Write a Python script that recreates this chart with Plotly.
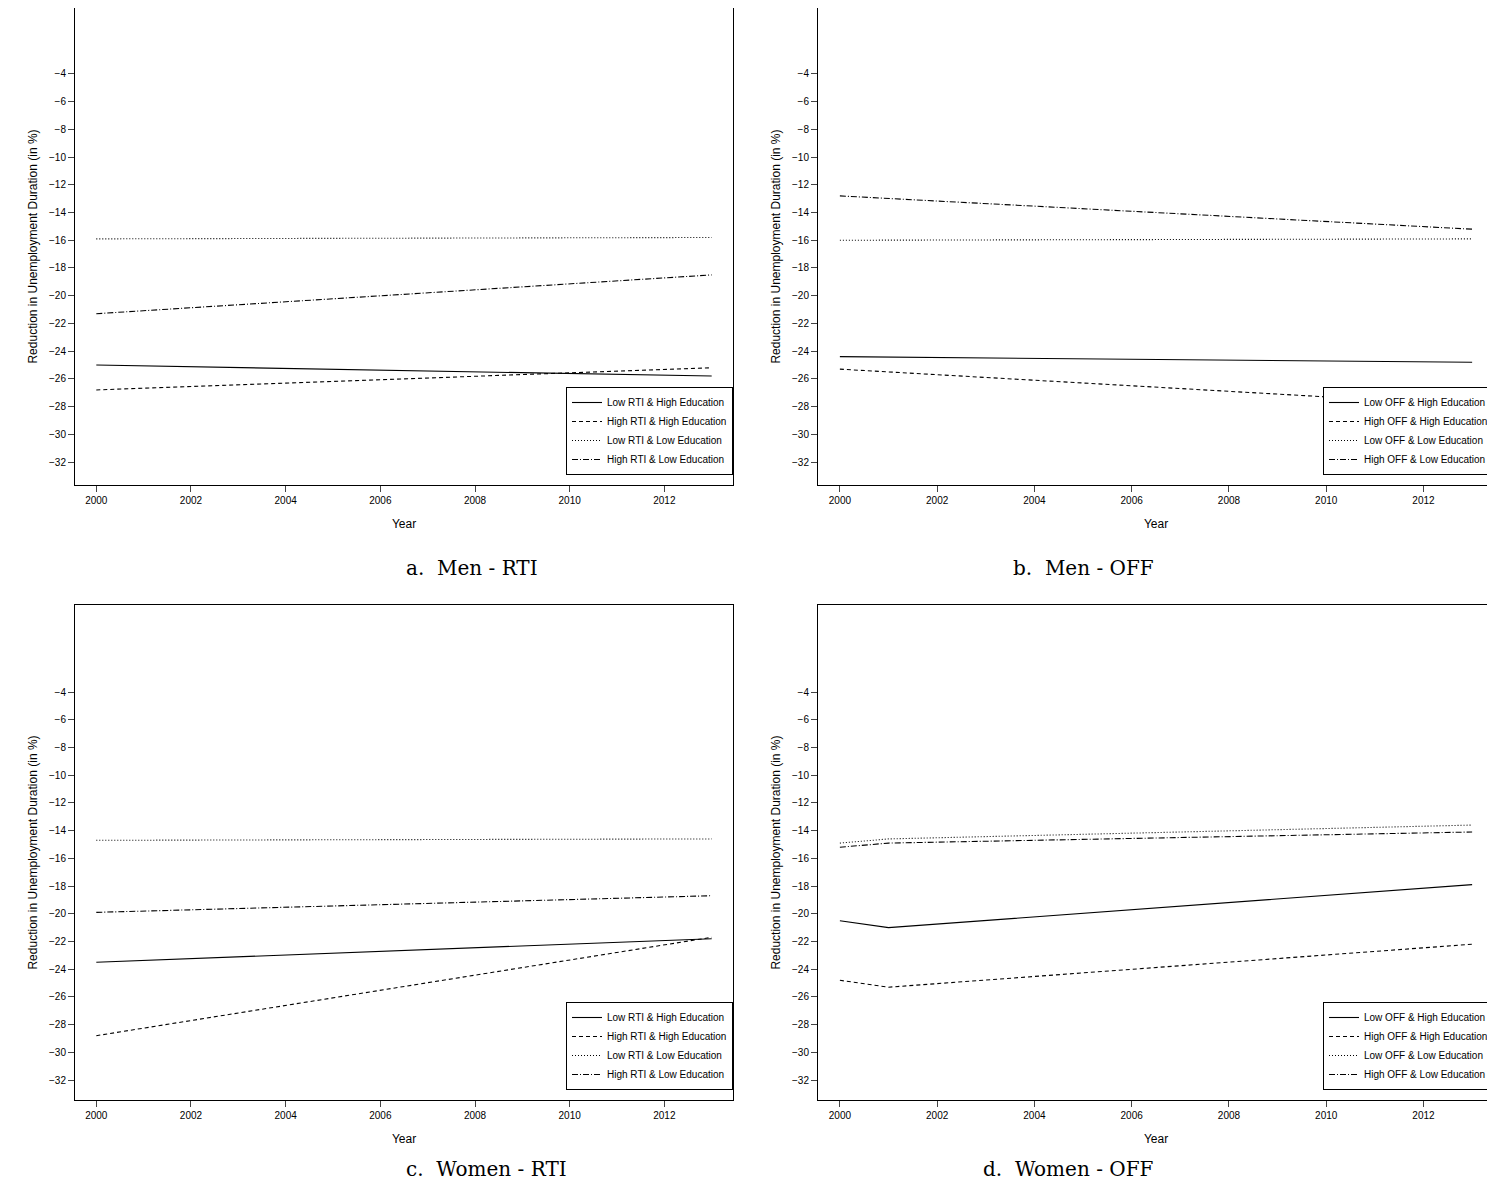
import plotly.graph_objects as go

W, H = 1495, 1202

years2 = [2000, 2013]
years3 = [2000, 2001, 2013]

# panel a: Men - RTI
a_low_high = [-25.0, -25.8]
a_high_high = [-26.8, -25.2]
a_low_low = [-15.9, -15.8]
a_high_low = [-21.3, -18.5]
# panel b: Men - OFF
b_low_high = [-24.4, -24.8]
b_high_high = [-25.3, -27.9]
b_low_low = [-16.0, -15.9]
b_high_low = [-12.8, -15.2]
# panel c: Women - RTI
c_low_high = [-23.5, -21.8]
c_high_high = [-28.8, -21.7]
c_low_low = [-14.7, -14.6]
c_high_low = [-19.9, -18.7]
# panel d: Women - OFF
d_low_high = [-20.5, -21.0, -17.9]
d_high_high = [-24.8, -25.3, -22.2]
d_low_low = [-14.9, -14.6, -13.6]
d_high_low = [-15.2, -14.9, -14.1]

panels = [
    ("RTI", years2, [a_low_high, a_high_high, a_low_low, a_high_low], "a.  Men - RTI"),
    ("OFF", years2, [b_low_high, b_high_high, b_low_low, b_high_low], "b.  Men - OFF"),
    ("RTI", years2, [c_low_high, c_high_high, c_low_low, c_high_low], "c.  Women - RTI"),
    ("OFF", years3, [d_low_high, d_high_high, d_low_low, d_high_low], "d.  Women - OFF"),
]
dashes = ["solid", "4px,3px", "1px,2px", "6px,2px,1px,2px"]
names = ["Low {} & High Education", "High {} & High Education",
         "Low {} & Low Education", "High {} & Low Education"]

# page has an 8px body margin, so boxes are given in figure pixels
# (left, right, top, bottom, y_min, y_max)
boxes = [(67, 725, 0, 477, -33.66, 0.76), (810, 1486, 0, 477, -33.66, 0.76),
         (67, 725, 597, 1092, -33.44, 2.28), (810, 1486, 597, 1092, -33.44, 2.28)]

fig = go.Figure()
layout = dict(width=W, height=H, margin=dict(l=0, r=0, t=0, b=0, autoexpand=False),
              plot_bgcolor="white", paper_bgcolor="white",
              font=dict(family="Liberation Sans, Arial", size=10, color="black"))
annotations = []
for i, (kind, yrs, series, caption) in enumerate(panels):
    n = i + 1
    sfx = "" if n == 1 else str(n)
    lg = "legend" if n == 1 else "legend" + str(n)
    l, r, t, b, y0, y1 = boxes[i]
    for j, s in enumerate(series):
        fig.add_trace(go.Scatter(x=yrs, y=s, mode="lines", name=names[j].format(kind),
                                 line=dict(color="black", width=1.1, dash=dashes[j]),
                                 xaxis="x" + sfx, yaxis="y" + sfx, legend=lg))
    layout["xaxis" + sfx] = dict(domain=[l / W, r / W], anchor="y" + sfx, automargin=False,
                                 range=[1999.55, 2013.45], tickvals=list(range(2000, 2013, 2)),
                                 showline=True, mirror=True, linecolor="black", ticks="outside",
                                 ticklen=6, showgrid=False, zeroline=False,
                                 title=dict(text="Year", standoff=14))
    layout["yaxis" + sfx] = dict(domain=[1 - b / H, 1 - t / H], anchor="x" + sfx, automargin=False,
                                 range=[y0, y1], tickvals=list(range(-32, -3, 2)),
                                 showline=True, mirror=True, linecolor="black", ticks="outside",
                                 ticklen=6, showgrid=False, zeroline=False,
                                 title=dict(text="Reduction in Unemployment Duration (in %)", standoff=8))
    layout[lg] = dict(x=r / W, y=1 - (b - 10) / H, xanchor="right", yanchor="bottom",
                      bordercolor="black", borderwidth=1, bgcolor="white",
                      font=dict(size=10), tracegroupgap=0, itemwidth=30)
    annotations.append(dict(text=caption, xref="paper", yref="paper",
                            x=(l + r) / 2 / W, y=1 - (b + 83) / H, showarrow=False,
                            font=dict(family="DejaVu Serif", size=20)))
layout["annotations"] = annotations
fig.update_layout(**layout)
fig.write_html("out.html")
